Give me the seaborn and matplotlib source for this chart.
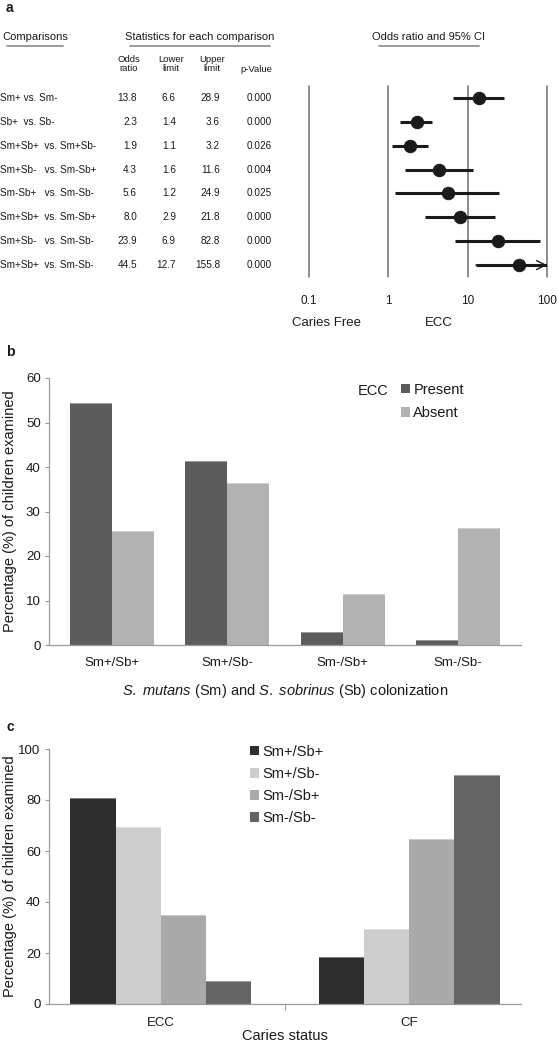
import numpy as np
import pandas as pd
import matplotlib
matplotlib.use("Agg")
import matplotlib.pyplot as plt
import seaborn as sns
from matplotlib.transforms import blended_transform_factory
from matplotlib.ticker import NullLocator, FixedLocator

# ---------------- data ----------------
comparisons = ["Sm+ vs. Sm-", "Sb+  vs. Sb-", "Sm+Sb+  vs. Sm+Sb-", "Sm+Sb-   vs. Sm-Sb+",
               "Sm-Sb+   vs. Sm-Sb-", "Sm+Sb+  vs. Sm-Sb+", "Sm+Sb-   vs. Sm-Sb-", "Sm+Sb+  vs. Sm-Sb-"]
odds_ratio = [13.8, 2.3, 1.9, 4.3, 5.6, 8.0, 23.9, 44.5]
lower_limit = [6.6, 1.4, 1.1, 1.6, 1.2, 2.9, 6.9, 12.7]
upper_limit = [28.9, 3.6, 3.2, 11.6, 24.9, 21.8, 82.8, 155.8]
p_value = [0.000, 0.000, 0.026, 0.004, 0.025, 0.000, 0.000, 0.000]
or_ticks = [0.1, 1, 10, 100]
or_tick_labels = ["0.1", "1", "10", "100"]

colonization = ["Sm+/Sb+", "Sm+/Sb-", "Sm-/Sb+", "Sm-/Sb-"]
ecc_present = [54.3, 41.3, 2.9, 1.2]
ecc_absent = [25.7, 36.3, 11.4, 26.4]

caries_status = ["ECC", "CF"]
groups_c = ["Sm+/Sb+", "Sm+/Sb-", "Sm-/Sb+", "Sm-/Sb-"]
pct_sm_pos_sb_pos = [80.9, 18.5]
pct_sm_pos_sb_neg = [69.6, 29.5]
pct_sm_neg_sb_pos = [34.8, 64.6]
pct_sm_neg_sb_neg = [9.0, 89.8]

# ---------------- style ----------------
sns.set_theme(style="white")
plt.rcParams["font.family"] = ["Liberation Sans", "DejaVu Sans"]
plt.rcParams["text.color"] = "#1a1a1a"
plt.rcParams["mathtext.fontset"] = "custom"
plt.rcParams["mathtext.rm"] = "Liberation Sans"
plt.rcParams["mathtext.it"] = "Liberation Sans:italic"

W, H = 558, 1048
fig = plt.figure(figsize=(W / 100, H / 100), dpi=100)


def fx(px):
    return px / W


def fy(py):
    return 1 - py / H


gray_line = "#9a9a9a"
ink = "#1a1a1a"

# ---------------- panel a ----------------
ax_a = fig.add_axes([fx(309), fy(277), fx(238), 191 / H])
df_or = pd.DataFrame({"row": np.arange(len(comparisons)), "or": odds_ratio,
                      "lo": lower_limit, "hi": upper_limit})
xmax = or_ticks[-1]
for t in or_ticks:
    ax_a.axvline(t, color="#6e6e6e", lw=1.1, clip_on=False, zorder=1)
df_or["hi_drawn"] = df_or["hi"].clip(upper=xmax)
ax_a.hlines(df_or["row"], df_or["lo"], df_or["hi_drawn"], color=ink, lw=2.2, zorder=2)
for _, r in df_or[df_or["hi"] > xmax].iterrows():
    ax_a.annotate("", xy=(xmax, r["row"]), xytext=(r["lo"], r["row"]),
                  arrowprops=dict(arrowstyle="->", color=ink, lw=1.0,
                                  mutation_scale=16, shrinkA=0, shrinkB=0),
                  annotation_clip=False, zorder=2)
sns.scatterplot(data=df_or, x="or", y="row", ax=ax_a, s=80, color=ink,
                edgecolor=ink, zorder=3, legend=False, clip_on=False)
ax_a.set_xscale("log")
ax_a.set_xlim(or_ticks[0], or_ticks[-1])
ax_a.set_ylim(len(comparisons) - 0.5, -0.5)
ax_a.xaxis.set_major_locator(FixedLocator(or_ticks))
ax_a.xaxis.set_minor_locator(NullLocator())
ax_a.set_xticklabels(or_tick_labels)
ax_a.set_yticks([])
ax_a.tick_params(axis="x", length=0, pad=13, labelsize=8.5, colors=ink)
ax_a.set_xlabel("")
ax_a.set_ylabel("")
for s in ax_a.spines.values():
    s.set_visible(False)
ax_a.patch.set_alpha(0)

fig.text(fx(327), fy(323), "Caries Free", ha="center", va="center", fontsize=9.5)
fig.text(fx(439), fy(323), "ECC", ha="center", va="center", fontsize=9.5)

# table
tr = blended_transform_factory(fig.transFigure, ax_a.transData)
tfs = 7.2
for i, row in df_or.iterrows():
    fig.text(fx(0), row["row"], comparisons[i], transform=tr, ha="left", va="center", fontsize=tfs)
    fig.text(fx(137), row["row"], f"{odds_ratio[i]:.1f}", transform=tr, ha="right", va="center", fontsize=tfs)
    fig.text(fx(176), row["row"], f"{lower_limit[i]:.1f}", transform=tr, ha="right", va="center", fontsize=tfs)
    fig.text(fx(220), row["row"], f"{upper_limit[i]:.1f}", transform=tr, ha="right", va="center", fontsize=tfs)
    fig.text(fx(272), row["row"], f"{p_value[i]:.3f}", transform=tr, ha="right", va="center", fontsize=tfs)

fig.text(fx(35), fy(37), "Comparisons", ha="center", va="center", fontsize=8)
fig.text(fx(200), fy(37), "Statistics for each comparison", ha="center", va="center", fontsize=8)
fig.text(fx(429), fy(37), "Odds ratio and 95% CI", ha="center", va="center", fontsize=8)
for x0, x1 in [(7, 63), (130, 270), (379, 479)]:
    fig.add_artist(plt.Line2D([fx(x0), fx(x1)], [fy(46), fy(46)], color="#8a8a8a", lw=1.2))
fig.text(fx(129), fy(64), "Odds\nratio", ha="center", va="center", fontsize=6.8, linespacing=1.0)
fig.text(fx(171), fy(64), "Lower\nlimit", ha="center", va="center", fontsize=6.8, linespacing=1.0)
fig.text(fx(212), fy(64), "Upper\nlimit", ha="center", va="center", fontsize=6.8, linespacing=1.0)
fig.text(fx(256), fy(69), "p-Value", ha="center", va="center", fontsize=6.8)
fig.text(fx(6), fy(8), "a", ha="left", va="center", fontsize=10, fontweight="bold")


def bevel(ax):
    for p in ax.patches:
        if p.get_height() <= 0:
            continue
        x, y = p.get_x(), p.get_y() + p.get_height()
        ax.plot([x, x + p.get_width()], [y, y], color="white", alpha=0.45, lw=1.2,
                solid_capstyle="butt", zorder=4)


def style_axis(ax):
    sns.despine(ax=ax)
    for s in ["left", "bottom"]:
        ax.spines[s].set_color(gray_line)
        ax.spines[s].set_linewidth(0.9)
    ax.tick_params(axis="y", left=True, length=3, width=0.8, color=gray_line,
                   labelsize=9.5, pad=3, labelcolor=ink)
    ax.set_facecolor("white")


ylab_x = -(49 - 17) / 472

# ---------------- panel b ----------------
ax_b = fig.add_axes([fx(49), fy(645), fx(472), 267 / H])
df_b = pd.DataFrame({"colonization": colonization * 2,
                     "ECC": ["Present"] * len(colonization) + ["Absent"] * len(colonization),
                     "pct": ecc_present + ecc_absent})
sns.barplot(data=df_b, x="colonization", y="pct", hue="ECC",
            palette={"Present": "#5c5c5c", "Absent": "#b2b2b2"},
            width=0.73, ax=ax_b, errorbar=None, linewidth=0, saturation=1)
bevel(ax_b)
ax_b.set_ylim(0, 60)
ax_b.set_yticks(range(0, 61, 10))
style_axis(ax_b)
ax_b.tick_params(axis="x", length=0, pad=9, labelsize=9.5, labelcolor=ink)
ax_b.set_xlabel(r"$\it{S.}$ $\it{mutans}$ (Sm) and $\it{S.}$ $\it{sobrinus}$ (Sb) colonization",
                fontsize=10.5, labelpad=9, color=ink)
ax_b.set_ylabel("Percentage (%) of children examined", fontsize=10.5, color=ink)
ax_b.yaxis.set_label_coords(ylab_x, 0.5)
handles, labels = ax_b.get_legend_handles_labels()
ax_b.legend(handles, labels, loc="upper left", bbox_to_anchor=(fx(401), fy(383)),
            bbox_transform=fig.transFigure, frameon=False, fontsize=10.5,
            handlelength=0.6, handleheight=0.6, handletextpad=0.25, labelspacing=0.62,
            borderpad=0, borderaxespad=0)
fig.text(fx(373), fy(391), "ECC", ha="center", va="center", fontsize=10.5)
fig.text(fx(10), fy(352), "b", ha="center", va="center", fontsize=10, fontweight="bold")

# ---------------- panel c ----------------
ax_c = fig.add_axes([fx(49), fy(1004), fx(472), 255 / H])
df_c = pd.DataFrame({"status": caries_status * 4,
                     "group": [g for g in groups_c for _ in caries_status],
                     "pct": pct_sm_pos_sb_pos + pct_sm_pos_sb_neg + pct_sm_neg_sb_pos + pct_sm_neg_sb_neg})
sns.barplot(data=df_c, x="status", y="pct", hue="group", hue_order=groups_c,
            palette=dict(zip(groups_c, ["#2e2e2e", "#cdcdcd", "#a9a9a9", "#646464"])),
            width=0.725, ax=ax_c, errorbar=None, linewidth=0, saturation=1)
bevel(ax_c)
ax_c.set_ylim(0, 100)
ax_c.set_yticks(range(0, 101, 20))
style_axis(ax_c)
ax_c.xaxis.set_minor_locator(FixedLocator([0.5]))
ax_c.tick_params(axis="x", which="major", length=0, pad=9, labelsize=9.5, labelcolor=ink)
ax_c.tick_params(axis="x", which="minor", bottom=True, length=4, width=0.8, color=gray_line)
ax_c.set_xlabel("Caries status", fontsize=10.5, color=ink)
ax_c.xaxis.set_label_coords(0.5, -(1029 - 1004) / 255)
ax_c.set_ylabel("Percentage (%) of children examined", fontsize=10.5, color=ink)
ax_c.yaxis.set_label_coords(ylab_x, 0.5)
handles, labels = ax_c.get_legend_handles_labels()
ax_c.legend(handles, labels, loc="upper left", bbox_to_anchor=(fx(250), fy(745)),
            bbox_transform=fig.transFigure, frameon=False, fontsize=10.5,
            handlelength=0.6, handleheight=0.6, handletextpad=0.25, labelspacing=0.55,
            borderpad=0, borderaxespad=0)
fig.text(fx(10), fy(727), "c", ha="center", va="center", fontsize=10, fontweight="bold")

fig.savefig("out.png", dpi=100, facecolor="white")
